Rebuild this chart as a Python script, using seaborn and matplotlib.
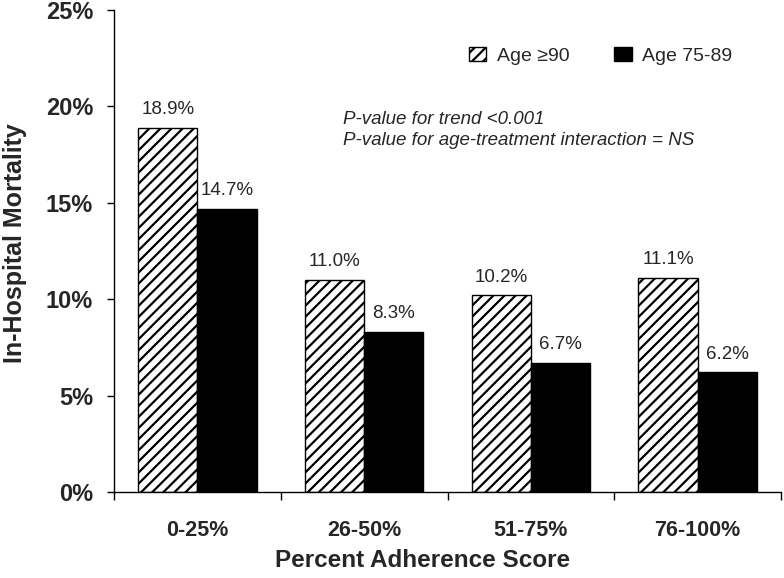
import numpy as np
import pandas as pd
import matplotlib
matplotlib.use("Agg")
import matplotlib.pyplot as plt
import seaborn as sns
from matplotlib.ticker import FixedLocator, FuncFormatter

# data
categories = ["0-25%", "26-50%", "51-75%", "76-100%"]
groups = ["Age \u226590", "Age 75-89"]
mort_90plus = [18.9, 11.0, 10.2, 11.1]
mort_75_89 = [14.7, 8.3, 6.7, 6.2]
y_ticks = [0, 5, 10, 15, 20, 25]

df = pd.DataFrame({
    "score": categories * 2,
    "mortality": mort_90plus + mort_75_89,
    "age": [groups[0]] * 4 + [groups[1]] * 4,
})

sns.set_style("ticks")
plt.rcParams["font.family"] = ["Liberation Sans", "DejaVu Sans"]
plt.rcParams["hatch.linewidth"] = 1.6
plt.rcParams["hatch.color"] = "black"

fig = plt.figure(figsize=(7.84, 5.78), dpi=100)
ax = fig.add_axes([0.1454, 0.1488, 0.9962 - 0.1454, 0.9827 - 0.1488])

sns.barplot(data=df, x="score", y="mortality", hue="age", hue_order=groups,
            palette=["white", "black"], edgecolor="black", linewidth=1.0,
            width=0.71, gap=0, ax=ax, legend=False)

# hatch the >=90 bars
for bar in ax.containers[0]:
    bar.set_hatch("///")

for cont, vals in zip(ax.containers, [mort_90plus, mort_75_89]):
    ax.bar_label(cont, labels=[f"{v:.1f}%" for v in vals], padding=7,
                 fontsize=13.5)

ax.set_xlim(-0.5, 3.5)
ax.set_ylim(0, 25)
ax.set_yticks(y_ticks)
ax.yaxis.set_major_formatter(FuncFormatter(lambda v, p: f"{v:.0f}%"))
ax.tick_params(axis="y", labelsize=17, length=5, width=1, pad=10,
               direction="out", color="black")
for lab in ax.get_yticklabels():
    lab.set_fontweight("bold")

ax.xaxis.set_minor_locator(FixedLocator([-0.5, 0.5, 1.5, 2.5, 3.5]))
ax.tick_params(axis="x", which="major", length=0, labelsize=15.5, pad=20)
ax.tick_params(axis="x", which="minor", length=6, width=1, color="black")
for lab in ax.get_xticklabels():
    lab.set_fontweight("bold")

ax.set_xlabel("Percent Adherence Score", fontsize=17.5, fontweight="bold")
ax.xaxis.set_label_coords(0.463, -0.118)
ax.set_ylabel("In-Hospital Mortality", fontsize=18, fontweight="bold")
ax.yaxis.set_label_coords(-0.1305, 0.517)

sns.despine(ax=ax)
for s in ["left", "bottom"]:
    ax.spines[s].set_color("black")
    ax.spines[s].set_linewidth(1.0)

ax.text(0.343, 0.751,
        "P-value for trend <0.001\nP-value for age-treatment interaction = NS",
        transform=ax.transAxes, fontsize=13.5, style="italic",
        va="center", ha="left", linespacing=1.35)

ax.legend(handles=list(ax.containers), labels=groups,
          loc="center left", bbox_to_anchor=(0.52, 0.905), ncol=2,
          frameon=False, fontsize=14, handlelength=0.9, handleheight=0.75,
          handletextpad=0.55, columnspacing=2.3, borderaxespad=0)

fig.savefig("out.png", dpi=100)
